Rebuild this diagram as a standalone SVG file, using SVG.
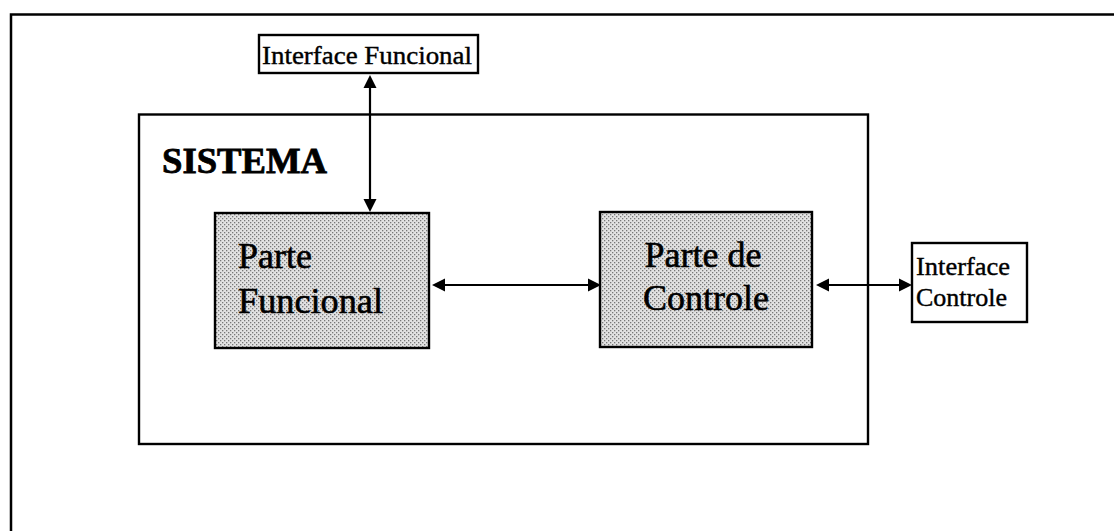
<svg xmlns="http://www.w3.org/2000/svg" width="1114" height="531" viewBox="0 0 1114 531">
  <style>
    .frame { fill: none; stroke: #000; stroke-width: 2.5; }
    .box { stroke: #000; stroke-width: 2.4; }
    .plain { fill: #fff; }
    .shaded { fill: url(#dots); }
    .link { stroke: #000; stroke-width: 2.2; fill: none; }
    .head { fill: #000; }
    .t { font-family: "Liberation Serif", "Times New Roman", serif; fill: #000; stroke: #000; stroke-width: 0.6; }
    .small { font-size: 26px; stroke-width: 0.4; }
    .big { font-size: 36px; }
    .title { font-size: 36px; font-weight: bold; stroke-width: 0.8; }
  </style>
  <defs>
    <!-- stippled grey fill of the two inner parts -->
    <pattern id="dots" width="4" height="4" patternUnits="userSpaceOnUse">
      <rect width="4" height="4" fill="#e2e2e2"/>
      <rect x="0" y="0" width="1.3" height="1.3" fill="#777"/>
      <rect x="2" y="2" width="1.3" height="1.3" fill="#777"/>
    </pattern>
  </defs>

  <!-- page frame: only the top and left edges are drawn -->
  <path class="frame" d="M11,531 L11,14.5 L1114,14.5"/>

  <g id="sistema">
    <rect class="box" x="139" y="114.5" width="729" height="329.5" fill="none"/>
    <text class="t title" x="162" y="173" textLength="165" lengthAdjust="spacingAndGlyphs">SISTEMA</text>
  </g>

  <g id="interface-funcional">
    <rect class="box plain" x="259" y="35" width="219" height="38"/>
    <text class="t small" x="262" y="64" textLength="210" lengthAdjust="spacingAndGlyphs">Interface Funcional</text>
  </g>

  <g id="parte-funcional">
    <rect class="box shaded" x="215" y="213" width="214" height="135"/>
    <text class="t big" x="238" y="268">Parte</text>
    <text class="t big" x="238" y="313" textLength="145" lengthAdjust="spacingAndGlyphs">Funcional</text>
  </g>

  <g id="parte-de-controle">
    <rect class="box shaded" x="600" y="212" width="212" height="135"/>
    <text class="t big" x="703" y="267" text-anchor="middle">Parte de</text>
    <text class="t big" x="706" y="310" text-anchor="middle">Controle</text>
  </g>

  <g id="interface-controle">
    <rect class="box plain" x="912" y="243" width="115" height="79"/>
    <text class="t small" x="916" y="275" textLength="94" lengthAdjust="spacingAndGlyphs">Interface</text>
    <text class="t small" x="916" y="306">Controle</text>
  </g>

  <g id="connectors">
    <!-- Interface Funcional <-> Parte Funcional -->
    <path class="link" d="M370,86 L370,200"/>
    <path class="head" d="M370,75 L376.5,88 L363.5,88 Z"/>
    <path class="head" d="M370,212 L376.5,199 L363.5,199 Z"/>
    <!-- Parte Funcional <-> Parte de Controle -->
    <path class="link" d="M444,285 L590,285"/>
    <path class="head" d="M432,285 L445,278.5 L445,291.5 Z"/>
    <path class="head" d="M601,285 L588,278.5 L588,291.5 Z"/>
    <!-- Parte de Controle <-> Interface Controle -->
    <path class="link" d="M828,285 L900,285"/>
    <path class="head" d="M816,285 L829,278.5 L829,291.5 Z"/>
    <path class="head" d="M912,285 L899,278.5 L899,291.5 Z"/>
  </g>
</svg>
